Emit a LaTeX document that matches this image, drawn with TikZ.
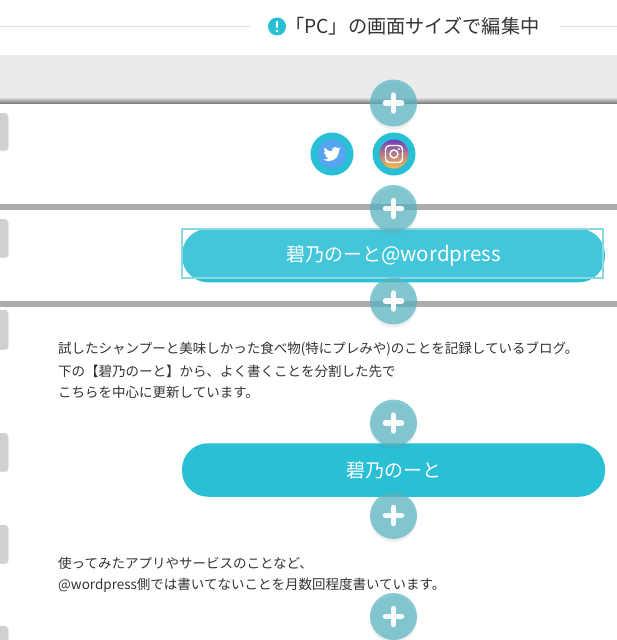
\documentclass[tikz,border=0pt]{standalone}
\usepackage{fontspec}
\setmainfont{Noto Sans CJK JP}
\usetikzlibrary{shadows}
\definecolor{teal1}{RGB}{41,191,213}
\definecolor{plusc}{RGB}{86,180,193}
\definecolor{band}{RGB}{172,172,172}
\definecolor{tabc}{RGB}{208,208,208}
\definecolor{twblue}{RGB}{85,165,240}
\definecolor{selc}{RGB}{140,216,226}
\definecolor{igtop}{RGB}{112,60,190}
\definecolor{igmid}{RGB}{222,50,110}
\definecolor{igbot}{RGB}{250,190,80}
\tikzset{
  plusbtn/.style={circle, minimum size=47pt, inner sep=0pt, fill=plusc, fill opacity=0.7,
    drop shadow={shadow xshift=0pt, shadow yshift=-3pt, opacity=0.12}},
  plusbar/.style={white, line width=5.5pt, line cap=round, opacity=0.95},
  pillbtn/.style={rounded corners=26pt, minimum width=423pt, minimum height=53.5pt, inner sep=0pt,
    fill=teal1, text=white, font=\fontsize{19}{19}\selectfont},
  tabbox/.style={fill=tabc, rounded corners=3pt, drop shadow={shadow xshift=0.5pt, shadow yshift=-1pt, opacity=0.25}},
  bodytext/.style={anchor=west, inner sep=0pt, text=black!80, font=\fontsize{13.5}{13.5}\selectfont},
  snsbtn/.style={circle, minimum size=43pt, inner sep=0pt, fill=teal1}
}
\begin{document}
\begin{tikzpicture}[x=1pt,y=-1pt]
\useasboundingbox (0,0) rectangle (617,640);
\fill[white] (0,0) rectangle (617,640);
% header
\node[inner sep=0pt, anchor=west, text=black!80, font=\fontsize{19.2}{19.2}\selectfont] (title) at (285,26.5) {「PC」の画面サイズで編集中};
\node[circle, fill=teal1, minimum size=18pt, inner sep=0pt] (info) at (277,26.5) {};
\draw[white, line width=2.6pt, line cap=round] (277,22) -- (277,27);
\fill[white] (277,31) circle [radius=1.4pt];
\draw[black!12] (0,26.5) -- (250,26.5);
\draw[black!12] (560,26.5) -- (617,26.5);
% grey bar and bands
\fill[black!8] (0,55) rectangle (617,97);
\shade[top color=black!8, bottom color=black!50] (0,97) rectangle (617,103);
\fill[band] (0,203.5) rectangle (617,209.5);
\fill[band] (0,301) rectangle (617,307);
% left tabs
\foreach \ya/\yb in {113/150, 219/257, 310/349, 433/471, 525/563, 626/660}
  \path[tabbox] (-6,\ya) rectangle (8,\yb);
% sns buttons
\node[snsbtn] (twbtn) at (332,154) {};
\fill[twblue] (332,154) circle [radius=14.5pt];
\begin{scope}[shift={(323.4,145.4)}, x=0.72pt, y=-0.72pt]
\fill[white] (23.95,4.57) .. controls (23,5) and (22,5.2) .. (21.13,5.35)
  .. controls (22.1,4.7) and (22.9,3.8) .. (23.29,2.62)
  .. controls (22.3,3.2) and (21.3,3.6) .. (20.16,3.8)
  .. controls (18.3,1.6) and (14.9,1.8) .. (13,3.6)
  .. controls (11.9,4.8) and (11.5,6.6) .. (11.78,8.29)
  .. controls (7.7,8.1) and (4.07,6.13) .. (1.64,3.16)
  .. controls (0.4,5.3) and (1.1,8.3) .. (3.16,9.73)
  .. controls (2.4,9.7) and (1.6,9.5) .. (0.93,9.12)
  .. controls (0.95,11.6) and (2.7,13.5) .. (4.88,14)
  .. controls (4.1,14.2) and (3.4,14.2) .. (2.66,14.09)
  .. controls (3.3,16.1) and (5.1,17.4) .. (7.27,17.5)
  .. controls (5.2,19.1) and (2.8,19.8) .. (0,19.54)
  .. controls (2.2,21) and (4.8,21.75) .. (7.56,21.75)
  .. controls (16.6,21.75) and (21.55,14.25) .. (21.55,7.76)
  .. controls (21.55,7.55) and (21.55,7.35) .. (21.54,7.13)
  .. controls (22.5,6.45) and (23.3,5.55) .. (23.95,4.57) -- cycle;
\end{scope}
\node[snsbtn] (igbtn) at (394,154) {};
\shade[top color=igtop, middle color=igmid, bottom color=igbot] (394,154) circle [radius=14.5pt];
\draw[white, line width=1.4pt, rounded corners=4pt] (385.5,145.5) rectangle (402.5,162.5);
\draw[white, line width=1.4pt] (394,154) circle [radius=4pt];
\fill[white] (399,149) circle [radius=1.1pt];
% pills
\node[pillbtn] (wpbtn) at (393.5,255.5) {碧乃のーと{\fontsize{20.5}{20.5}\selectfont @wordpress}};
\node[pillbtn] (notebtn) at (393.5,470) {碧乃のーと};
\draw[selc, line width=2.2pt, fill=white, fill opacity=0.12] (182,229) rectangle (603,278);
% body text
\node[bodytext] (textone) at (58,349) {試したシャンプーと美味しかった食べ物(特にプレみや)のことを記録しているブログ。};
\node[bodytext] (texttwo) at (58,371) {下の【碧乃のーと】から、よく書くことを分割した先で};
\node[bodytext] (textthree) at (58,392.5) {こちらを中心に更新しています。};
\node[bodytext] (textfour) at (58,563.5) {使ってみたアプリやサービスのことなど、};
\node[bodytext] (textfive) at (58,585) {@wordpress側では書いてないことを月数回程度書いています。};
% plus buttons
\foreach \n/\y in {a/103, b/208.5, c/301, d/423, e/515.5, f/616.5} {
  \node[plusbtn] (plus\n) at (393.5,\y) {};
  \draw[plusbar] (385.5,\y) -- (401.5,\y);
  \draw[plusbar] (393.5,\y-8) -- (393.5,\y+8);
}
\end{tikzpicture}
\end{document}
